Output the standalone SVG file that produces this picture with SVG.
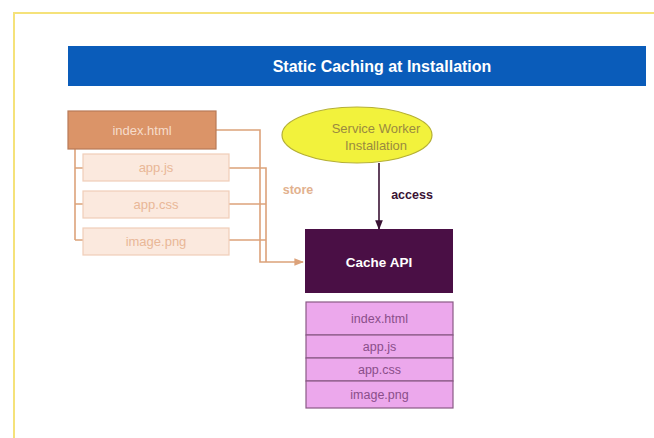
<svg xmlns="http://www.w3.org/2000/svg" width="654" height="438" viewBox="0 0 654 438">
<defs>
<style>
text{font-family:"Liberation Sans",Arial,sans-serif;text-anchor:middle;dominant-baseline:central}
.src{fill:#fbe9de;stroke:#f0cdb8;stroke-width:1.2}
.srct{fill:#e9b797;font-size:13px}
.conn{fill:none;stroke:#dca27a;stroke-width:1.6}
.item{fill:#eca8ec;stroke:#8a5a86;stroke-width:1.2}
.itemt{fill:#8a4e8a;font-size:12.5px}
</style>
<marker id="ah" viewBox="0 0 10 10" refX="9" refY="5" markerWidth="6" markerHeight="6" orient="auto"><path d="M0,1 L10,5 L0,9 z" fill="#dca27a"/></marker>
<marker id="ahd" viewBox="0 0 10 10" refX="9" refY="5" markerWidth="6" markerHeight="6" orient="auto"><path d="M0,1 L10,5 L0,9 z" fill="#3a1234"/></marker>
</defs>
<rect width="654" height="438" fill="#ffffff"/>
<path d="M14,438 L14,13 L654,13" fill="none" stroke="#f5e27a" stroke-width="2"/>
<g id="title">
<rect x="68" y="46" width="578" height="40" fill="#0a5cba"/>
<text x="382" y="66" fill="#ffffff" font-size="16" font-weight="bold">Static Caching at Installation</text>
</g>
<g id="connectors">
<path d="M75,149 L75,240" class="conn" stroke="#f5d6c2"/>
<path d="M75,168 H83 M75,204 H83 M75,240 H83" class="conn" stroke="#f5d6c2"/>
<path d="M216,130 H260 V262 H303" class="conn" stroke="#cfa288" marker-end="url(#ah)"/>
<path d="M229,168 H266 V262" class="conn"/>
<path d="M229,204 H266" class="conn"/>
<path d="M229,240 H266" class="conn" stroke="#cfa288"/>
<path d="M379,163 V229" fill="none" stroke="#3a1234" stroke-width="1.6" marker-end="url(#ahd)"/>
<text x="298" y="190" fill="#e2b18e" font-size="12.5" font-weight="bold">store</text>
<text x="412" y="195" fill="#3a1234" font-size="12.5" font-weight="bold">access</text>
</g>
<g id="index-html">
<rect x="68" y="111" width="148" height="38" fill="#db9468" stroke="#b87a58" stroke-width="1.2"/>
<text x="142" y="130" fill="#f6dccb" font-size="13">index.html</text>
</g>
<g id="app-js">
<rect x="83" y="154" width="146" height="27" class="src"/>
<text x="156" y="167.5" class="srct">app.js</text>
</g>
<g id="app-css">
<rect x="83" y="191" width="146" height="27" class="src"/>
<text x="156" y="204.5" class="srct">app.css</text>
</g>
<g id="image-png">
<rect x="83" y="228" width="146" height="27" class="src"/>
<text x="156" y="241.5" class="srct">image.png</text>
</g>
<g id="sw-install">
<ellipse cx="357" cy="135" rx="75" ry="28" fill="#f2f23c" stroke="#b5b034" stroke-width="1.2"/>
<text x="376" y="128" fill="#9a8a40" font-size="13">Service Worker</text>
<text x="376" y="145" fill="#9a8a40" font-size="13">Installation</text>
</g>
<g id="cache-api">
<rect x="305" y="229" width="148" height="64" fill="#4a0f45"/>
<text x="379" y="262" fill="#ffffff" font-size="13.5" font-weight="bold">Cache API</text>
</g>
<g id="cache-items">
<rect x="306" y="302" width="147" height="33" class="item"/>
<text x="379.5" y="319" class="itemt">index.html</text>
<rect x="306" y="335" width="147" height="23" class="item"/>
<text x="379.5" y="347" class="itemt">app.js</text>
<rect x="306" y="358" width="147" height="23" class="item"/>
<text x="379.5" y="370" class="itemt">app.css</text>
<rect x="306" y="381" width="147" height="27" class="item"/>
<text x="379.5" y="395" class="itemt">image.png</text>
</g>
</svg>
